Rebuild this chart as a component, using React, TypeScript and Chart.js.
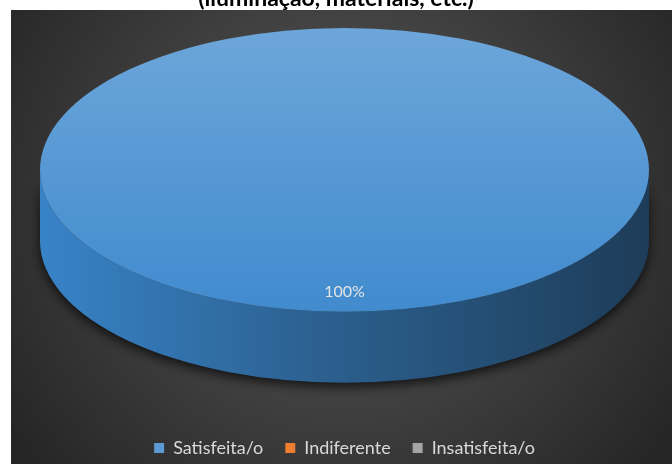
import React, { useEffect, useRef } from 'react';
import { Chart, registerables } from 'chart.js';

Chart.register(...registerables);

const categories = ['Satisfeita/o', 'Indiferente', 'Insatisfeita/o'];
const values = [100, 0, 0];
const sliceColors = ['#5b9bd5', '#ed7d31', '#a5a5a5'];
const titleText = '(iluminação, materiais, etc.)';

const FONT = 'Lato, "Liberation Sans", sans-serif';
const TILT = 0.466;
const DEPTH = 0.5;

function hexToHsl(hex: string) {
  const n = parseInt(hex.slice(1), 16);
  const r = ((n >> 16) & 255) / 255, g = ((n >> 8) & 255) / 255, b = (n & 255) / 255;
  const max = Math.max(r, g, b), min = Math.min(r, g, b);
  let h = 0, s = 0;
  const l = (max + min) / 2;
  if (max !== min) {
    const d = max - min;
    s = l > 0.5 ? d / (2 - max - min) : d / (max + min);
    if (max === r) h = (g - b) / d + (g < b ? 6 : 0);
    else if (max === g) h = (b - r) / d + 2;
    else h = (r - g) / d + 4;
    h *= 60;
  }
  return { h, s: s * 100, l: l * 100 };
}
function tone(hex: string, light: number, satMul = 1) {
  const { h, s } = hexToHsl(hex);
  return `hsl(${h.toFixed(1)}, ${Math.min(100, s * satMul).toFixed(1)}%, ${light}%)`;
}

function geom(chart: any) {
  const a = chart.chartArea;
  const rx = (a.right - a.left) / 2;
  const ry = rx * TILT;
  const cx = (a.left + a.right) / 2;
  const cy = a.top + ry;
  return { rx, ry, cx, cy, depth: ry * DEPTH };
}

const backgroundPlugin = {
  id: 'panelBg',
  beforeDraw(chart: any) {
    const ctx = chart.ctx as CanvasRenderingContext2D;
    const { width, height } = chart;
    ctx.save();
    ctx.fillStyle = '#ffffff';
    ctx.fillRect(0, 0, width, height);
    const px = 11, py = 10, pw = width - px, ph = height - py;
    const gx = px + pw / 2, gy = py + ph * 0.42;
    const g = ctx.createRadialGradient(gx, gy, 0, gx, gy, Math.hypot(pw, ph) / 2);
    g.addColorStop(0, '#5a5a5a');
    g.addColorStop(1, '#262626');
    ctx.fillStyle = g;
    ctx.fillRect(px, py, pw, ph);
    ctx.fillStyle = '#000000';
    ctx.font = `bold 23px ${FONT}`;
    ctx.textAlign = 'center';
    ctx.textBaseline = 'alphabetic';
    ctx.fillText(titleText, 336, 6);
    ctx.restore();
  },
};

const pie3dPlugin = {
  id: 'pie3d',
  beforeDatasetsDraw(chart: any) {
    const ctx = chart.ctx as CanvasRenderingContext2D;
    const meta = chart.getDatasetMeta(0);
    const { rx, ry, cx, cy, depth } = geom(chart);
    const PI = Math.PI;
    meta.data.forEach((el: any, i: number) => {
      const { startAngle, endAngle } = el.getProps(['startAngle', 'endAngle'], true);
      if (endAngle - startAngle <= 0) return;
      const base = sliceColors[i];
      for (const k of [-2 * PI, 0, 2 * PI]) {
        const s = Math.max(startAngle + k, 0);
        const e = Math.min(endAngle + k, PI);
        if (e <= s) continue;
        ctx.save();
        ctx.beginPath();
        ctx.ellipse(cx, cy, rx, ry, 0, s, e, false);
        ctx.ellipse(cx, cy + depth, rx, ry, 0, e, s, true);
        ctx.closePath();
        const g = ctx.createLinearGradient(cx - rx, 0, cx + rx, 0);
        g.addColorStop(0, tone(base, 50, 0.95));
        g.addColorStop(0.45, tone(base, 37, 0.9));
        g.addColorStop(1, tone(base, 23, 0.85));
        ctx.shadowColor = 'rgba(0,0,0,0.75)';
        ctx.shadowBlur = 12;
        ctx.shadowOffsetY = 4;
        ctx.fillStyle = g;
        ctx.fill();
        ctx.restore();
      }
    });
    const el0 = meta.data[0];
    const r = el0.outerRadius;
    ctx.save();
    ctx.translate(cx, cy);
    ctx.scale(rx / r, ry / r);
    ctx.translate(-el0.x, -el0.y);
  },
  afterDatasetsDraw(chart: any) {
    const ctx = chart.ctx as CanvasRenderingContext2D;
    ctx.restore();
    const meta = chart.getDatasetMeta(0);
    const { rx, ry, cx, cy } = geom(chart);
    const total = values.reduce((a, b) => a + b, 0);
    meta.data.forEach((el: any, i: number) => {
      if (!values[i]) return;
      const { startAngle, endAngle } = el.getProps(['startAngle', 'endAngle'], true);
      const mid = (startAngle + endAngle) / 2;
      const x = cx + Math.cos(mid) * rx * 0.86;
      const y = cy + Math.sin(mid) * ry * 0.86;
      ctx.save();
      ctx.font = `16px ${FONT}`;
      ctx.fillStyle = '#e4e4e4';
      ctx.textAlign = 'center';
      ctx.textBaseline = 'middle';
      ctx.fillText(Math.round((values[i] / total) * 100) + '%', x, y);
      ctx.restore();
    });
  },
};

export default function App() {
  const canvasRef = useRef<HTMLCanvasElement | null>(null);

  useEffect(() => {
    const canvas = canvasRef.current;
    if (!canvas) return;
    const chart = new Chart(canvas, {
      type: 'pie',
      data: {
        labels: categories,
        datasets: [
          {
            data: values,
            borderWidth: 0,
            clip: false as any,
            backgroundColor: (c: any) => {
              const base = sliceColors[c.dataIndex ?? 0];
              const a = c.chart.chartArea;
              if (!a) return base;
              const y = (a.top + a.bottom) / 2;
              const r = Math.min(a.right - a.left, a.bottom - a.top) / 2;
              const g = c.chart.ctx.createLinearGradient(0, y - r, 0, y + r);
              g.addColorStop(0, tone(base, 64));
              g.addColorStop(1, tone(base, 53));
              return g;
            },
          } as any,
        ],
      },
      options: {
        responsive: true,
        maintainAspectRatio: false,
        animation: false,
        events: [],
        layout: { padding: { top: 28, left: 40, right: 23, bottom: -3 } },
        plugins: {
          tooltip: { enabled: false },
          legend: {
            position: 'bottom',
            labels: {
              color: '#d9d9d9',
              font: { family: FONT, size: 18 },
              boxWidth: 10,
              boxHeight: 10,
              padding: 22,
              generateLabels: () =>
                categories.map((c, i) => ({
                  text: c,
                  fillStyle: sliceColors[i],
                  strokeStyle: sliceColors[i],
                  lineWidth: 0,
                  hidden: false,
                  index: i,
                  fontColor: '#d9d9d9',
                })),
            },
          },
        },
      },
      plugins: [backgroundPlugin, pie3dPlugin],
    });
    return () => chart.destroy();
  }, []);

  return (
    <div style={{ position: 'absolute', left: 0, top: 0, width: 672, height: 464 }}>
      <canvas ref={canvasRef} />
    </div>
  );
}
